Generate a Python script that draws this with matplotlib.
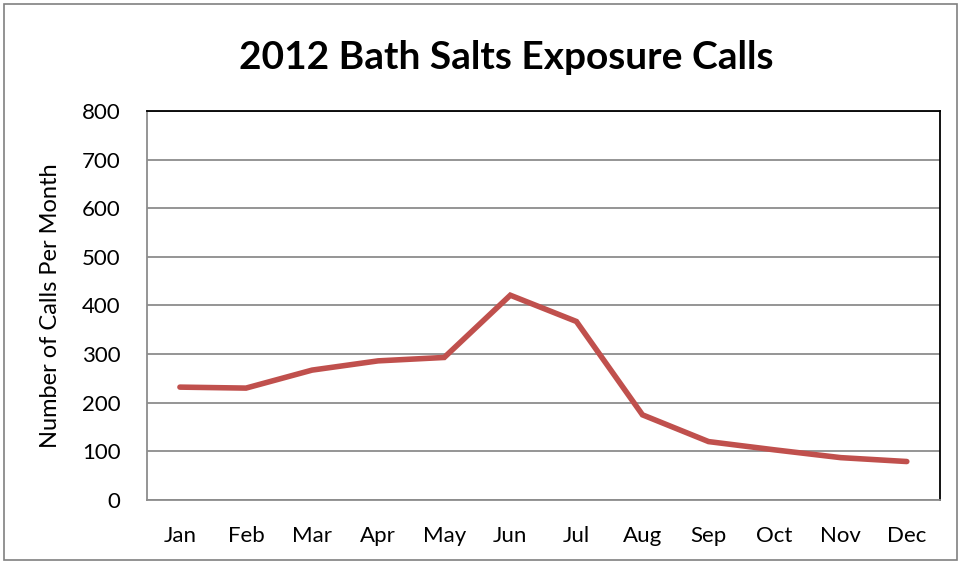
import matplotlib
matplotlib.use("Agg")
from matplotlib import pyplot as plt
from matplotlib.patches import Rectangle

months = ['Jan', 'Feb', 'Mar', 'Apr', 'May', 'Jun', 'Jul', 'Aug', 'Sep', 'Oct', 'Nov', 'Dec']
calls = [232, 230, 267, 286, 293, 421, 367, 175, 120, 103, 87, 79]
yticks = [0, 100, 200, 300, 400, 500, 600, 700, 800]

plt.rcParams['font.family'] = ['Lato', 'DejaVu Sans']

fig = plt.figure(figsize=(9.6, 5.63), dpi=100)
fig.patches.append(Rectangle((0.004, 0.005), 0.993, 0.988, transform=fig.transFigure,
                             fill=False, edgecolor='#808080', linewidth=1.2))

ax = fig.add_axes([0.153, 0.112, 0.826, 0.691])
x = list(range(len(months)))
ax.plot(x, calls, color='#C0504D', linewidth=4, solid_capstyle='round', solid_joinstyle='miter', zorder=3)

ax.set_xlim(-0.5, len(months) - 0.5)
ax.set_ylim(0, 800)
ax.set_yticks(yticks)
ax.set_xticks(x)
ax.set_xticklabels(months)
ax.tick_params(axis='both', labelsize=16, length=0, colors='black')
ax.tick_params(axis='x', pad=19)
ax.tick_params(axis='y', pad=19)
ax.grid(axis='y', color='#8c8c8c', linewidth=1.3)
ax.set_axisbelow(True)
for side in ['left', 'bottom']:
  ax.spines[side].set_color('#8c8c8c')
  ax.spines[side].set_linewidth(1.3)
for side in ['top', 'right']:
  ax.spines[side].set_color('black')
  ax.spines[side].set_linewidth(1.3)

ax.set_ylabel('Number of Calls Per Month', fontsize=17, labelpad=15)
fig.text(0.527, 0.898, '2012 Bath Salts Exposure Calls', ha='center', va='center',
         fontsize=28, fontweight='bold')

fig.savefig('out.png', dpi=100)
